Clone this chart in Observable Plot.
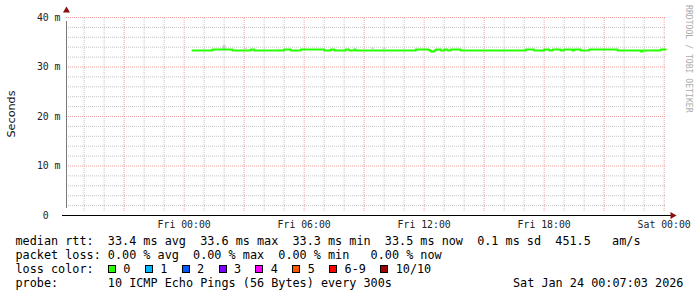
<!DOCTYPE html>
<html>
<head>
<meta charset="utf-8">
<script src="https://cdn.jsdelivr.net/npm/d3@7"></script>
<script src="https://cdn.jsdelivr.net/npm/@observablehq/plot@0.6"></script>
<style>
html, body { margin: 0; padding: 0; background: #fff; }
#wrap { position: relative; width: 697px; height: 297px; overflow: hidden; font-family: "DejaVu Sans Mono", monospace; }
#chart { position: absolute; left: 0; top: 0; }
.leg { position: absolute; left: 15.5px; font-size: 11.8px; line-height: 14px; white-space: pre; color: #000; }
.box { display: inline-block; width: 6px; height: 6px; border: 1px solid #000; margin-right: 7.4px; }
.item { margin-right: 14.4px; }
#ylab { position: absolute; left: 11px; top: 113.5px; transform: translate(-50%, -50%) rotate(-90deg); font-family: "DejaVu Sans", sans-serif; font-size: 11.2px; color: #111; white-space: nowrap; }
#wm { position: absolute; left: 684px; top: 5px; writing-mode: vertical-rl; font-size: 8.15px; color: #ababab; white-space: nowrap; line-height: 9px; }
</style>
</head>
<body>
<div id="wrap">
  <div id="chart"></div>
  <div id="ylab">Seconds</div>
  <div id="wm">RRDTOOL / TOBI OETIKER</div>
  <div id="legend"></div>
</div>
<script>
// ---- data (median RTT in ms, step changes) ----
const stepTimes = [
  "2026-01-23T00:25Z","2026-01-23T01:25Z","2026-01-23T02:25Z","2026-01-23T03:20Z","2026-01-23T03:30Z",
  "2026-01-23T05:00Z","2026-01-23T05:20Z","2026-01-23T05:50Z","2026-01-23T07:00Z","2026-01-23T07:20Z",
  "2026-01-23T07:30Z","2026-01-23T08:05Z","2026-01-23T08:15Z","2026-01-23T08:30Z","2026-01-23T08:35Z",
  "2026-01-23T11:35Z","2026-01-23T12:15Z","2026-01-23T12:20Z","2026-01-23T12:30Z","2026-01-23T12:35Z",
  "2026-01-23T12:50Z","2026-01-23T13:00Z","2026-01-23T13:10Z","2026-01-23T13:20Z","2026-01-23T13:50Z",
  "2026-01-23T17:05Z","2026-01-23T17:30Z","2026-01-23T18:00Z","2026-01-23T18:15Z","2026-01-23T18:25Z",
  "2026-01-23T18:50Z","2026-01-23T19:00Z","2026-01-23T19:25Z","2026-01-23T19:30Z","2026-01-23T19:50Z",
  "2026-01-23T20:15Z","2026-01-23T21:40Z","2026-01-23T22:50Z","2026-01-23T22:55Z","2026-01-23T23:50Z",
  "2026-01-24T00:05Z"
];
const medianRtt = [
  33.35,33.55,33.35,33.55,33.35,
  33.55,33.35,33.55,33.35,33.55,
  33.35,33.55,33.35,33.55,33.35,
  33.55,33.35,33.15,33.35,33.55,
  33.35,33.55,33.35,33.55,33.35,
  33.55,33.35,33.55,33.35,33.55,
  33.35,33.55,33.35,33.55,33.35,
  33.55,33.35,33.15,33.35,33.55,
  33.55
];
// smoke (ping spread) visible spots
const smokeTimes = ["2026-01-23T02:00Z","2026-01-23T03:05Z","2026-01-23T09:25Z","2026-01-23T10:00Z"];
const smokeLow  = [33.5, 33.6, 33.6, 33.6];
const smokeHigh = [34.3, 33.8, 33.8, 33.8];

const timeStart = "2026-01-22T18:07:03Z";
const timeEnd   = "2026-01-24T00:07:03Z";
const yTicks = [0, 10, 20, 30, 40];
const yTickLabels = ["0\u00a0\u00a0", "10 m", "20 m", "30 m", "40 m"];

const statsLine  = "median rtt:  33.4 ms avg  33.6 ms max  33.3 ms min  33.5 ms now  0.1 ms sd  451.5   am/s";
const lossLine   = "packet loss: 0.00 % avg  0.00 % max  0.00 % min   0.00 % now";
const lossLabels = ["0", "1", "2", "3", "4", "5", "6-9", "10/10"];
const lossColors = ["#26ff00", "#00b8ff", "#0059ff", "#7e00ff", "#ff00ff", "#ff5500", "#ff0000", "#a10000"];
const probeLine  = "probe:       10 ICMP Echo Pings (56 Bytes) every 300s";
const stampText  = "Sat Jan 24 00:07:03 2026";

// ---- build ----
const x0 = new Date(timeStart), x1 = new Date(timeEnd);
const rows = stepTimes.map((t, i) => ({t: new Date(t), v: medianRtt[i]}));
const smoke = smokeTimes.map((t, i) => ({t: new Date(t), lo: smokeLow[i], hi: smokeHigh[i]}));
const minorX = d3.utcHour.range(x0, x1).filter(d => d.getUTCHours() % 3 !== 0);
const majorX = d3.utcHour.every(3).range(x0, x1);
const labelX = d3.utcHour.every(6).range(x0, x1);
const minorY = d3.range(2, 40, 2).filter(v => v % 10 !== 0);
const majorY = yTicks.filter(v => v > 0);

const chart = Plot.plot({
  width: 697,
  height: 232,
  marginLeft: 66,
  marginRight: 31,
  marginTop: 17,
  marginBottom: 17,
  x: {type: "utc", domain: [x0, x1]},
  y: {domain: [0, 40]},
  style: {fontFamily: "DejaVu Sans Mono, monospace", fontSize: "9.8px", color: "#222", background: "transparent", overflow: "visible"},
  marks: [
    Plot.ruleX(minorX, {y1: 0, y2: 40, stroke: "#c4c4c4", strokeDasharray: "1,1", insetTop: -4}),
    Plot.ruleY(minorY, {stroke: "#c4c4c4", strokeDasharray: "1,1"}),
    Plot.ruleX(majorX, {y1: 0, y2: 40, stroke: "#eea0a0", strokeDasharray: "1,1", insetTop: -4}),
    Plot.ruleY(majorY, {stroke: "#eea0a0", strokeDasharray: "1,1"}),
    Plot.ruleX(smoke, {x: "t", y1: "lo", y2: "hi", stroke: "#c8c8c8", strokeWidth: 3}),
    Plot.line(rows, {x: "t", y: "v", curve: "step-after", stroke: "#26ff00", strokeWidth: 2}),
    Plot.ruleX([x0], {y1: 0, y2: 40, stroke: "#7a7a7a", insetTop: -7, insetBottom: -4}),
    Plot.ruleY([0], {stroke: "#000", insetLeft: -4, insetRight: -5}),
    Plot.dot([x0], {x: d => d, y: () => 40, symbol: "triangle", r: 2.6, fill: "#8b1010", stroke: "none", dy: -7}),
    Plot.dot([x1], {x: d => d, y: () => 0, symbol: "triangle", r: 2.6, fill: "#8b1010", stroke: "none", rotate: 90, dx: 6}),
    Plot.axisY({ticks: yTicks, tickFormat: (d, i) => yTickLabels[yTicks.indexOf(d)], tickSize: 0, tickPadding: 6, label: null}),
    Plot.axisX({ticks: labelX, tickFormat: d3.utcFormat("%a %H:%M"), tickSize: 0, tickPadding: 6, label: null})
  ]
});
document.getElementById("chart").appendChild(chart);

// ---- legend ----
const legend = document.getElementById("legend");
function line(top, html) {
  const d = document.createElement("div");
  d.className = "leg";
  d.style.top = top + "px";
  d.innerHTML = html;
  legend.appendChild(d);
  return d;
}
line(234, statsLine);
line(248, lossLine);
line(262, "loss color:  " + lossLabels.map((l, i) =>
  `<span class="box" style="background:${lossColors[i]}"></span><span class="item">${l}</span>`).join(""));
line(276, probeLine);
const st = line(276, stampText);
st.style.left = "513px";
</script>
</body>
</html>
